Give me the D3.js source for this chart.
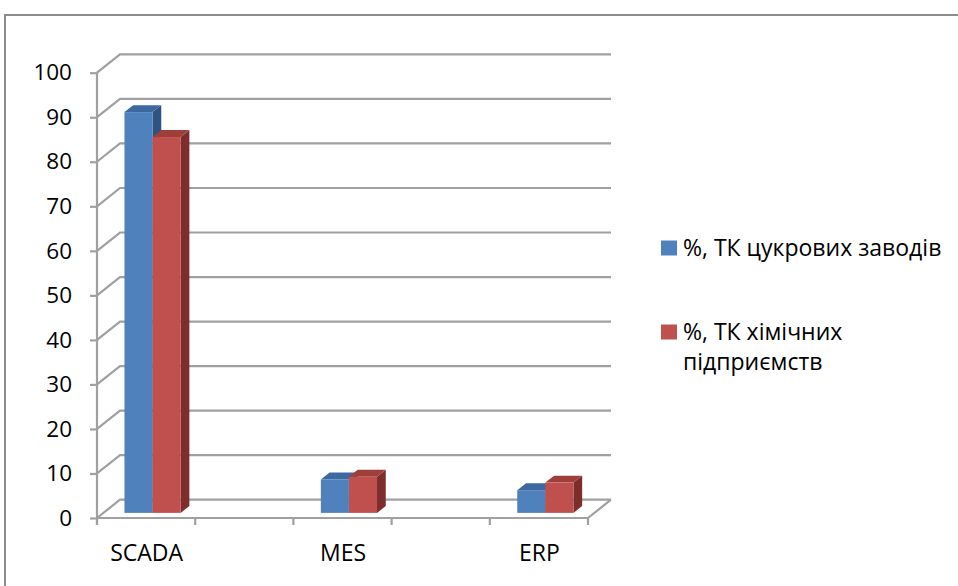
<!DOCTYPE html>
<html>
<head>
<meta charset="utf-8">
<script src="https://cdn.jsdelivr.net/npm/d3@7"></script>
<style>
  html, body { margin: 0; padding: 0; background: #fff; }
  svg { display: block; }
  text { font-family: "Open Sans", "Noto Sans", sans-serif; fill: #000; }
</style>
</head>
<body>
<svg id="chart" width="958" height="586"></svg>
<script>
// Share of plants using each class of system, %
const categories = ["SCADA", "MES", "ERP"];
const sugarPlants = [90, 7.5, 5.1];
const chemicalPlants = [84.4, 8.1, 6.8];
const seriesNames = ["%, ТК цукрових заводів", "%, ТК хімічних підприємств"];
const yTicks = [0, 10, 20, 30, 40, 50, 60, 70, 80, 90, 100];

const faceColors = [
  { front: "#4f81bd", top: "#3d68a0", side: "#2f5382" },
  { front: "#c0504d", top: "#9e3f3c", side: "#7d2e2c" }
];

const svg = d3.select("#chart");

// outer frame
svg.append("path")
  .attr("d", "M5,586 L5,15 L958,15")
  .attr("fill", "none").attr("stroke", "#8c8c8c").attr("stroke-width", 2);

// front plane of the 3D box and its depth vector
const fx0 = 97, fx1 = 588;
const depth = { x: 23, y: -18.3 };

const y = d3.scaleLinear().domain([0, 100]).range([518, 72.7]);
const x = d3.scalePoint().domain(categories).range([fx0, fx1]).padding(0.25);
const step = x.step();

const gridColor = "#a0a0a0";
const grid = svg.append("g").attr("fill", "none").attr("stroke", gridColor).attr("stroke-width", 2.2);

// back-wall gridlines and side-wall diagonals
yTicks.forEach(t => {
  const yy = y(t);
  grid.append("path")
    .attr("d", `M${fx0},${yy} L${fx0 + depth.x},${yy + depth.y} L${fx1 + depth.x},${yy + depth.y}`);
});
// floor front edge and right diagonal
grid.append("path")
  .attr("d", `M${fx0},${y(0)} L${fx1},${y(0)} L${fx1 + depth.x},${y(0) + depth.y}`);

// category tick marks along the floor front edge
d3.range(0, categories.length * 2).forEach(k => {
  const tx = fx0 + k * step / 2;
  grid.append("line").attr("x1", tx).attr("x2", tx).attr("y1", y(0)).attr("y2", y(0) + 7);
});

// value axis
const yAxis = svg.append("g")
  .attr("transform", `translate(${fx0},0)`)
  .call(d3.axisLeft(y).tickValues(yTicks).tickSize(7).tickPadding(18).tickFormat(d3.format("d")));
yAxis.select(".domain").attr("stroke", gridColor).attr("stroke-width", 2.2)
  .attr("d", `M0,${y(100)} L0,${y(0) + 7}`);
yAxis.selectAll(".tick line").attr("stroke", gridColor).attr("stroke-width", 2.2);
yAxis.selectAll(".tick text").attr("font-size", 22.5).attr("fill", "#000")
  .attr("font-family", "\"Open Sans\", sans-serif");

// category labels
const xAxis = svg.append("g")
  .attr("transform", `translate(0,${y(0)})`)
  .call(d3.axisBottom(x).tickSize(0).tickPadding(27));
xAxis.select(".domain").remove();
xAxis.selectAll(".tick text").attr("font-size", 23).attr("fill", "#000")
  .attr("font-family", "\"Open Sans\", sans-serif");

// 3D columns
const barW = step * 0.143;
const frontFrac = 0.28, depthFrac = 0.38;
const off = { x: depth.x * frontFrac, y: depth.y * frontFrac };
const dd = { x: depth.x * depthFrac, y: depth.y * depthFrac };

const series = [sugarPlants, chemicalPlants];
const bars = svg.append("g");
categories.forEach((c, ci) => {
  series.forEach((vals, si) => {
    const col = faceColors[si];
    const left = x(c) + off.x - barW + si * barW;
    const right = left + barW;
    const top = y(vals[ci]) + off.y;
    const bottom = y(0) + off.y;
    const g = bars.append("g");
    g.append("polygon")
      .attr("points", [[right, top], [right + dd.x, top + dd.y], [right + dd.x, bottom + dd.y], [right, bottom]].join(" "))
      .attr("fill", col.side);
    g.append("polygon")
      .attr("points", [[left, top], [right, top], [right + dd.x, top + dd.y], [left + dd.x, top + dd.y]].join(" "))
      .attr("fill", col.top);
    g.append("rect")
      .attr("x", left).attr("y", top).attr("width", barW).attr("height", bottom - top)
      .attr("fill", col.front);
  });
});

// legend
const legend = svg.append("g").attr("transform", "translate(661,0)");
const legendY = [248, 332];
const maxLabelW = 275;
seriesNames.forEach((name, i) => {
  const g = legend.append("g").attr("transform", `translate(0,${legendY[i]})`);
  g.append("rect").attr("x", 0).attr("y", -7.5).attr("width", 16).attr("height", 15)
    .attr("fill", faceColors[i].front);
  const text = g.append("text").attr("x", 22).attr("y", 8).attr("font-size", 23);
  // wrap the label into lines that fit the legend column
  const words = name.split(" ");
  let line = [];
  let tspan = text.append("tspan").attr("x", 22).attr("dy", 0);
  words.forEach(w => {
    line.push(w);
    tspan.text(line.join(" "));
    if (tspan.node().getComputedTextLength() > maxLabelW && line.length > 1) {
      line.pop();
      tspan.text(line.join(" "));
      line = [w];
      tspan = text.append("tspan").attr("x", 22).attr("dy", 29.5).text(w);
    }
  });
});
</script>
</body>
</html>
